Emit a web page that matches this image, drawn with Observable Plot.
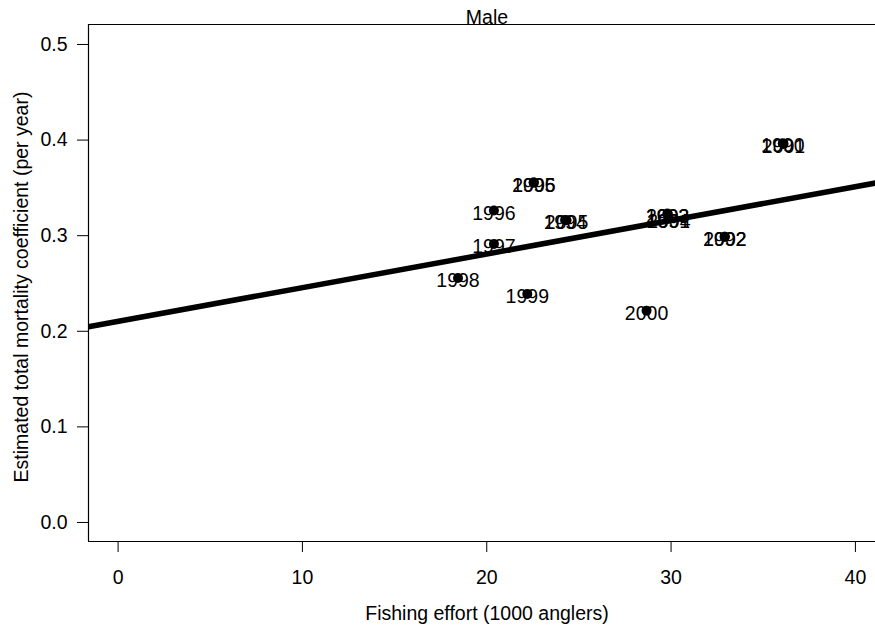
<!DOCTYPE html>
<html>
<head>
<meta charset="utf-8">
<script src="https://cdn.jsdelivr.net/npm/d3@7"></script>
<script src="https://cdn.jsdelivr.net/npm/@observablehq/plot@0.6"></script>
<style>
  html, body { margin: 0; padding: 0; background: #fff; }
  svg { display: block; }
</style>
</head>
<body>
<div id="chart"></div>
<script>
// Data
const years     = ["1990", "2001", "1992", "2002", "1993", "2003", "1991", "2004", "1994", "2005", "1995", "2006", "1996", "1997", "1998", "1999", "2000"];
const effort    = [36.06, 36.10, 32.90, 32.92, 29.80, 29.82, 29.85, 29.88, 24.25, 24.33, 22.54, 22.56, 20.39, 20.39, 18.44, 22.20, 28.67];
const mortality = [0.3967, 0.3960, 0.2990, 0.2988, 0.3231, 0.3228, 0.3179, 0.3182, 0.3165, 0.3162, 0.3557, 0.3555, 0.3263, 0.2914, 0.2558, 0.2391, 0.2216];

// Fitted regression line (intercept, slope)
const fitIntercept = [0.2104];
const fitSlope = [0.00352];

const xTicks = [0, 10, 20, 30, 40];
const yTicks = [0.0, 0.1, 0.2, 0.3, 0.4, 0.5];
const xDomain = [-1.605, 41.09];
const yDomain = [-0.0199, 0.5209];

const panelTitle = "Male";
const xTitle = "Fishing effort (1000 anglers)";
const yTitle = "Estimated total mortality coefficient (per year)";

const points = years.map((yr, i) => ({year: yr, x: effort[i], y: mortality[i]}));
const fitLine = xDomain.map(x => ({x, y: fitIntercept[0] + fitSlope[0] * x}));

const FS = 19.5;
const chart = Plot.plot({
  width: 875,
  height: 629,
  marginLeft: 88,
  marginRight: 0,
  marginTop: 24,
  marginBottom: 88,
  style: {fontFamily: "'Liberation Sans', Arial, Helvetica, sans-serif", fontSize: FS + "px", color: "#000", background: "#fff"},
  x: {domain: xDomain},
  y: {domain: yDomain},
  marks: [
    Plot.axisX({ticks: xTicks, tickSize: 11, tickPadding: 18, label: null, fontSize: FS, stroke: "#000"}),
    Plot.axisY({ticks: yTicks, tickSize: 11, tickPadding: 10, tickFormat: d3.format(".1f"), label: null, fontSize: FS, stroke: "#000"}),
    Plot.ruleX([xDomain[0]], {stroke: "#000", strokeWidth: 1.2}),
    Plot.ruleY([yDomain[0], yDomain[1]], {stroke: "#000", strokeWidth: 1.2}),
    Plot.dot(points, {x: "x", y: "y", r: 5, fill: "#000", stroke: "none"}),
    Plot.text(points, {x: "x", y: "y", text: "year", fontSize: FS, fill: "#000", lineAnchor: "middle", textAnchor: "middle", dy: 3}),
    Plot.line(fitLine, {x: "x", y: "y", stroke: "#000", strokeWidth: 5.5, clip: true}),
    Plot.text([panelTitle], {frameAnchor: "top", text: d => d, textAnchor: "middle", lineAnchor: "middle", dx: 5, dy: -7, fontSize: FS, fill: "#000"}),
    Plot.text([xTitle], {frameAnchor: "bottom", text: d => d, textAnchor: "middle", lineAnchor: "middle", dx: 5, dy: 72, fontSize: FS, fill: "#000"}),
    Plot.text([yTitle], {frameAnchor: "left", text: d => d, rotate: -90, textAnchor: "middle", lineAnchor: "middle", dx: -67, dy: 4, fontSize: FS, fill: "#000"})
  ]
});
document.getElementById("chart").appendChild(chart);
</script>
</body>
</html>
